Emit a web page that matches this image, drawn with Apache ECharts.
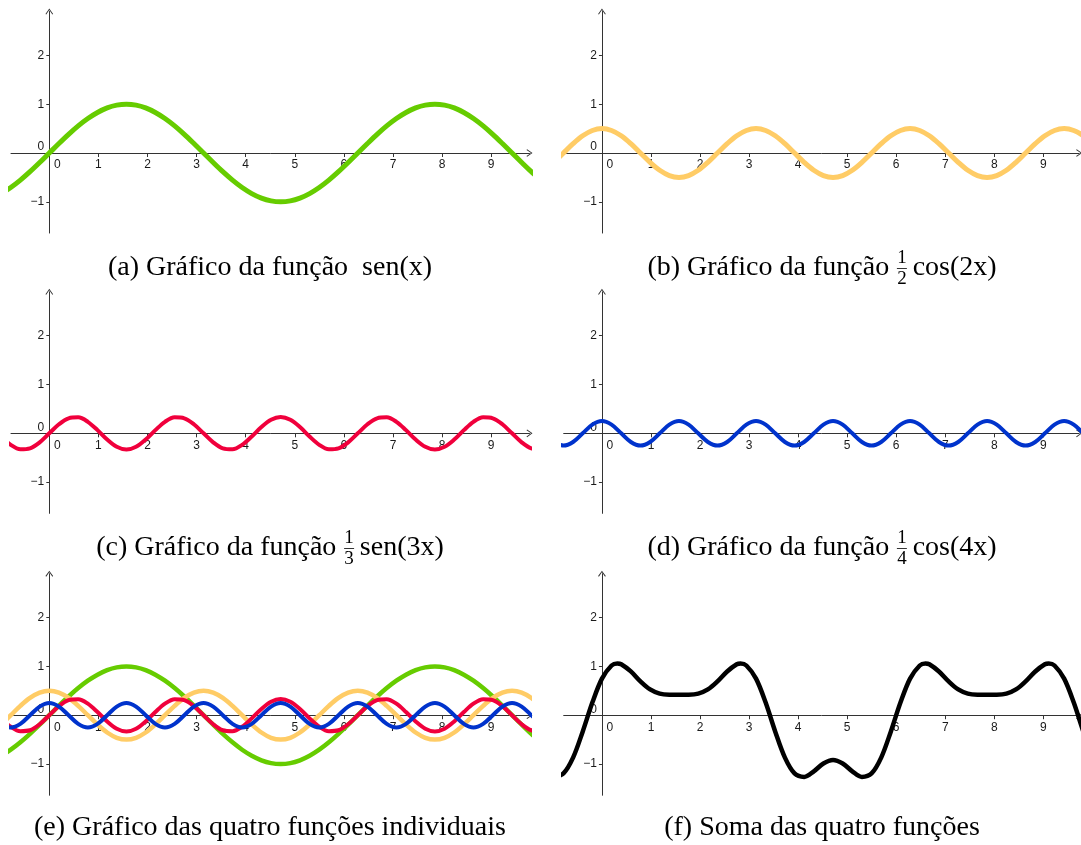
<!DOCTYPE html>
<html>
<head>
<meta charset="utf-8">
<script src="https://cdn.jsdelivr.net/npm/echarts@6/dist/echarts.min.js"></script>
<style>
  html, body { margin: 0; padding: 0; background: #fff; }
  #c { width: 1081px; height: 845px; }
</style>
</head>
<body>
<div id="c"></div>
<script>
// Sample abscissae (steps of pi/16) shared by the four individual curves
const xs = [-0.982,-0.785,-0.589,-0.393,-0.196,0,0.196,0.393,0.589,0.785,0.982,1.178,1.374,1.571,1.767,1.963,2.160,2.356,2.553,2.749,2.945,3.142,3.338,3.534,3.731,3.927,4.123,4.320,4.516,4.712,4.909,5.105,5.301,5.498,5.694,5.890,6.087,6.283,6.480,6.676,6.872,7.069,7.265,7.461,7.658,7.854,8.050,8.247,8.443,8.639,8.836,9.032,9.228,9.425,9.621,9.817,10.014];

// sen(x)
const senX = [-0.831,-0.707,-0.556,-0.383,-0.195,0,0.195,0.383,0.556,0.707,0.831,0.924,0.981,1,0.981,0.924,0.831,0.707,0.556,0.383,0.195,0,-0.195,-0.383,-0.556,-0.707,-0.831,-0.924,-0.981,-1,-0.981,-0.924,-0.831,-0.707,-0.556,-0.383,-0.195,0,0.195,0.383,0.556,0.707,0.831,0.924,0.981,1,0.981,0.924,0.831,0.707,0.556,0.383,0.195,0,-0.195,-0.383,-0.556];

// 1/2 cos(2x)
const meioCos2x = [-0.191,0,0.191,0.354,0.462,0.5,0.462,0.354,0.191,0,-0.191,-0.354,-0.462,-0.5,-0.462,-0.354,-0.191,0,0.191,0.354,0.462,0.5,0.462,0.354,0.191,0,-0.191,-0.354,-0.462,-0.5,-0.462,-0.354,-0.191,0,0.191,0.354,0.462,0.5,0.462,0.354,0.191,0,-0.191,-0.354,-0.462,-0.5,-0.462,-0.354,-0.191,0,0.191,0.354,0.462,0.5,0.462,0.354,0.191];

// 1/3 sen(3x)
const tercoSen3x = [-0.065,-0.236,-0.327,-0.308,-0.185,0,0.185,0.308,0.327,0.236,0.065,-0.128,-0.277,-0.333,-0.277,-0.128,0.065,0.236,0.327,0.308,0.185,0,-0.185,-0.308,-0.327,-0.236,-0.065,0.128,0.277,0.333,0.277,0.128,-0.065,-0.236,-0.327,-0.308,-0.185,0,0.185,0.308,0.327,0.236,0.065,-0.128,-0.277,-0.333,-0.277,-0.128,0.065,0.236,0.327,0.308,0.185,0,-0.185,-0.308,-0.327];

// 1/4 cos(4x)
const quartoCos4x = [-0.177,-0.25,-0.177,0,0.177,0.25,0.177,0,-0.177,-0.25,-0.177,0,0.177,0.25,0.177,0,-0.177,-0.25,-0.177,0,0.177,0.25,0.177,0,-0.177,-0.25,-0.177,0,0.177,0.25,0.177,0,-0.177,-0.25,-0.177,0,0.177,0.25,0.177,0,-0.177,-0.25,-0.177,0,0.177,0.25,0.177,0,-0.177,-0.25,-0.177,0,0.177,0.25,0.177,0,-0.177];

// Abscissae of the sum curve (same grid plus its four maxima)
const xsSoma = [-0.982,-0.785,-0.589,-0.393,-0.196,0,0.196,0.314,0.393,0.589,0.785,0.982,1.178,1.374,1.571,1.767,1.963,2.160,2.356,2.553,2.749,2.827,2.945,3.142,3.338,3.534,3.731,3.927,4.123,4.320,4.516,4.712,4.909,5.105,5.301,5.498,5.694,5.890,6.087,6.283,6.480,6.597,6.676,6.872,7.069,7.265,7.461,7.658,7.854,8.050,8.247,8.443,8.639,8.836,9.032,9.110,9.228,9.425,9.621,9.817,10.014];

// soma das quatro funções
const soma = [-1.264,-1.193,-0.869,-0.337,0.259,0.75,1.019,1.061,1.045,0.897,0.693,0.528,0.442,0.419,0.417,0.419,0.442,0.528,0.693,0.897,1.045,1.061,1.019,0.75,0.259,-0.337,-0.869,-1.193,-1.264,-1.15,-0.989,-0.917,-0.989,-1.15,-1.264,-1.193,-0.869,-0.337,0.259,0.75,1.019,1.061,1.045,0.897,0.693,0.528,0.442,0.419,0.417,0.419,0.442,0.528,0.693,0.897,1.045,1.061,1.019,0.75,0.259,-0.337,-0.869];

// Tick labels
const xTicks = [0,1,2,3,4,5,6,7,8,9];
const yTicks = [-1,0,1,2];

// Captions: plain text, or [before, [numerator, denominator], after]
const captions = [
  ['(a) Gráfico da função  sen(x)'],
  ['(b) Gráfico da função ', ['1','2'], 'cos(2x)'],
  ['(c) Gráfico da função ', ['1','3'], 'sen(3x)'],
  ['(d) Gráfico da função ', ['1','4'], 'cos(4x)'],
  ['(e) Gráfico das quatro funções individuais'],
  ['(f) Soma das quatro funções']
];

// Which curves go in which panel
const GREEN = '#66cc00', YELLOW = '#ffcc66', RED = '#f0003c', BLUE = '#0033cc', BLACK = '#000000';
const panels = [
  [[xs, senX, GREEN, 5]],
  [[xs, meioCos2x, YELLOW, 5]],
  [[xs, tercoSen3x, RED, 4]],
  [[xs, quartoCos4x, BLUE, 4]],
  [[xs, senX, GREEN, 4.5], [xs, meioCos2x, YELLOW, 4.5], [xs, tercoSen3x, RED, 4], [xs, quartoCos4x, BLUE, 4]],
  [[xsSoma, soma, BLACK, 4.5]]
];

// ---- layout ----
const X_MIN = -0.78, Y_MIN = -1.64, Y_MAX = 2.9;
const cols = [
  { left: 11, unit: 49.1, xMax: 9.78, center: 270 },
  { left: 563.7, unit: 49.04, xMax: 9.73, center: 822 }
];
const rows = [
  { top: 11.5, caption: 268 },
  { top: 291.8, caption: 548 },
  { top: 573.7, caption: 828 }
];
const UNIT_Y = 48.8;

const AXIS_COLOR = '#333333';
const LABEL_FONT = 'Liberation Sans';
const CAPTION_FONT = 'Liberation Serif';
const ARROW = 'path://M5,0 L10,7 L9,7.8 L5,1.9 L1,7.8 L0,7 Z';

const grid = [], xAxis = [], yAxis = [], series = [];

panels.forEach((curves, i) => {
  const col = cols[i % 2], row = rows[Math.floor(i / 2)];
  grid.push({
    left: col.left,
    top: row.top,
    width: (col.xMax - X_MIN) * col.unit,
    height: (Y_MAX - Y_MIN) * UNIT_Y,
    outerBoundsMode: 'none',
    containLabel: false
  });
  // the axes cross at the origin: shift each one from its grid edge onto the zero line
  xAxis.push({
    gridIndex: i, type: 'value', min: X_MIN, max: col.xMax,
    position: 'bottom', offset: Y_MIN * UNIT_Y,
    splitLine: { show: false },
    axisLine: {
      onZero: false,
      lineStyle: { color: AXIS_COLOR, width: 1 },
      symbol: ['none', ARROW], symbolSize: [8, 6]
    },
    axisTick: { show: true, customValues: xTicks, length: 4, lineStyle: { color: AXIS_COLOR } },
    axisLabel: {
      customValues: xTicks, margin: 6,
      fontFamily: LABEL_FONT, fontSize: 12, color: '#1a1a1a',
      formatter: v => v === 0 ? '{z|0}' : String(v),
      rich: { z: { padding: [0, 0, 0, 16], fontFamily: LABEL_FONT, fontSize: 12, color: '#1a1a1a' } }
    }
  });
  yAxis.push({
    gridIndex: i, type: 'value', min: Y_MIN, max: Y_MAX,
    position: 'left', offset: X_MIN * col.unit,
    splitLine: { show: false },
    axisLine: {
      onZero: false,
      lineStyle: { color: AXIS_COLOR, width: 1 },
      symbol: ['none', ARROW], symbolSize: [8, 6]
    },
    axisTick: { show: true, customValues: [-1, 1, 2], length: 3, lineStyle: { color: AXIS_COLOR } },
    axisLabel: {
      customValues: yTicks, margin: 5,
      fontFamily: LABEL_FONT, fontSize: 12, color: '#1a1a1a',
      formatter: v => v === 0 ? '{z|0}' : String(v).replace('-', '\u2212'),
      rich: { z: { padding: [0, 0, 12, 0], fontFamily: LABEL_FONT, fontSize: 12, color: '#1a1a1a' } }
    }
  });
  curves.forEach(([xv, vals, color, width]) => {
    series.push({
      type: 'line', xAxisIndex: i, yAxisIndex: i,
      data: xv.map((x, k) => [x, vals[k]]),
      showSymbol: false, smooth: 0.33, clip: true,
      lineStyle: { color, width, cap: 'round', join: 'round' },
      emphasis: { disabled: true }, silent: true
    });
  });
});

// ---- captions ----
const ctx = document.createElement('canvas').getContext('2d');
function textWidth(t, size) {
  ctx.font = size + 'px "' + CAPTION_FONT + '"';
  return ctx.measureText(t).width;
}
const CAP_SIZE = 28, FRAC_SIZE = 19;
const graphic = [];
captions.forEach((parts, i) => {
  const col = cols[i % 2], row = rows[Math.floor(i / 2)];
  const y = row.caption;
  const items = [];
  let total = 0;
  parts.forEach(p => {
    if (Array.isArray(p)) {
      const w = Math.max(textWidth(p[0], FRAC_SIZE), textWidth(p[1], FRAC_SIZE)) + 2;
      items.push({ frac: p, w: w + 5 });
      total += w + 5;
    } else {
      const w = textWidth(p, CAP_SIZE);
      items.push({ text: p, w });
      total += w;
    }
  });
  let x = col.center - total / 2;
  items.forEach(it => {
    if (it.text) {
      graphic.push({
        type: 'text', x, y, silent: true,
        style: { text: it.text, fontFamily: CAPTION_FONT, fontSize: CAP_SIZE, fill: '#000', align: 'left', verticalAlign: 'middle' }
      });
    } else {
      const cx = x + (it.w - 5) / 2;
      graphic.push({
        type: 'text', x: cx, y: y - 10, silent: true,
        style: { text: it.frac[0], fontFamily: CAPTION_FONT, fontSize: FRAC_SIZE, fill: '#000', align: 'center', verticalAlign: 'middle' }
      });
      graphic.push({
        type: 'line', silent: true,
        shape: { x1: cx - 5, y1: y + 0.5, x2: cx + 5, y2: y + 0.5 },
        style: { stroke: '#000', lineWidth: 0.8 }
      });
      graphic.push({
        type: 'text', x: cx, y: y + 11, silent: true,
        style: { text: it.frac[1], fontFamily: CAPTION_FONT, fontSize: FRAC_SIZE, fill: '#000', align: 'center', verticalAlign: 'middle' }
      });
    }
    x += it.w;
  });
});

const chart = echarts.init(document.getElementById('c'), null, { renderer: 'canvas' });
chart.setOption({
  animation: false,
  backgroundColor: '#ffffff',
  grid, xAxis, yAxis, series, graphic
});
</script>
</body>
</html>
